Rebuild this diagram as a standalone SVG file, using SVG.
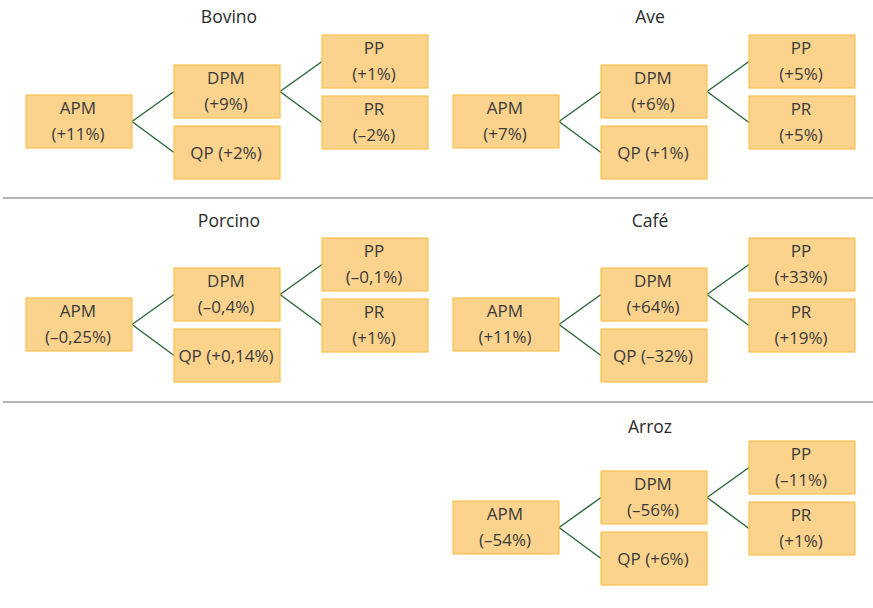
<svg xmlns="http://www.w3.org/2000/svg" width="873" height="608" viewBox="0 0 873 608">
  <style>
    .box { fill: #FCD38D; stroke: #F8C253; stroke-width: 1.2; }
    .lbl { font-family: "Open Sans", "Noto Sans", sans-serif; font-size: 17px; fill: #3a3a3a; text-anchor: middle; }
    .ttl { font-family: "Open Sans", "Noto Sans", sans-serif; font-size: 17.5px; fill: #2b2b2b; text-anchor: middle; }
    .con { stroke: #2F6A3C; stroke-width: 1.5; fill: none; }
    .sep { stroke: #9c9c9c; stroke-width: 1.5; }
  </style>

  <!-- section separators -->
  <line class="sep" x1="3" y1="198" x2="873" y2="198"/>
  <line class="sep" x1="3" y1="402" x2="873" y2="402"/>

  <!-- titles -->
  <text class="ttl" x="229" y="23">Bovino</text>
  <text class="ttl" x="650" y="23">Ave</text>
  <text class="ttl" x="229" y="227">Porcino</text>
  <text class="ttl" x="650" y="227">Café</text>
  <text class="ttl" x="650" y="433">Arroz</text>

  <!-- connectors for all five trees -->
  <g id="connectors">
    <g transform="translate(0,0)">
      <path class="con" d="M132,121.5 L174,91.5 M132,121.5 L174,152.5 M280,91.5 L322,61.5 M280,91.5 L322,122.5"/>
    </g>
    <g transform="translate(427,0)">
      <path class="con" d="M132,121.5 L174,91.5 M132,121.5 L174,152.5 M280,91.5 L322,61.5 M280,91.5 L322,122.5"/>
    </g>
    <g transform="translate(0,203)">
      <path class="con" d="M132,121.5 L174,91.5 M132,121.5 L174,152.5 M280,91.5 L322,61.5 M280,91.5 L322,122.5"/>
    </g>
    <g transform="translate(427,203)">
      <path class="con" d="M132,121.5 L174,91.5 M132,121.5 L174,152.5 M280,91.5 L322,61.5 M280,91.5 L322,122.5"/>
    </g>
    <g transform="translate(427,406)">
      <path class="con" d="M132,121.5 L174,91.5 M132,121.5 L174,152.5 M280,91.5 L322,61.5 M280,91.5 L322,122.5"/>
    </g>
  </g>

  <!-- Bovino -->
  <g id="bovino">
    <g id="bovino-apm"><rect class="box" x="26" y="95" width="106" height="53"/><text class="lbl" x="78" y="113.5">APM</text><text class="lbl" x="78" y="140">(+11%)</text></g>
    <g id="bovino-dpm"><rect class="box" x="174" y="65" width="106" height="53"/><text class="lbl" x="226" y="83.5">DPM</text><text class="lbl" x="226" y="110">(+9%)</text></g>
    <g id="bovino-qp"><rect class="box" x="174" y="126" width="106" height="53"/><text class="lbl" x="226" y="159">QP (+2%)</text></g>
    <g id="bovino-pp"><rect class="box" x="322" y="35" width="106" height="53"/><text class="lbl" x="374" y="53.5">PP</text><text class="lbl" x="374" y="80">(+1%)</text></g>
    <g id="bovino-pr"><rect class="box" x="322" y="96" width="106" height="53"/><text class="lbl" x="374" y="114.5">PR</text><text class="lbl" x="374" y="141">(–2%)</text></g>
  </g>

  <!-- Ave -->
  <g id="ave" transform="translate(427,0)">
    <g id="ave-apm"><rect class="box" x="26" y="95" width="106" height="53"/><text class="lbl" x="78" y="113.5">APM</text><text class="lbl" x="78" y="140">(+7%)</text></g>
    <g id="ave-dpm"><rect class="box" x="174" y="65" width="106" height="53"/><text class="lbl" x="226" y="83.5">DPM</text><text class="lbl" x="226" y="110">(+6%)</text></g>
    <g id="ave-qp"><rect class="box" x="174" y="126" width="106" height="53"/><text class="lbl" x="226" y="159">QP (+1%)</text></g>
    <g id="ave-pp"><rect class="box" x="322" y="35" width="106" height="53"/><text class="lbl" x="374" y="53.5">PP</text><text class="lbl" x="374" y="80">(+5%)</text></g>
    <g id="ave-pr"><rect class="box" x="322" y="96" width="106" height="53"/><text class="lbl" x="374" y="114.5">PR</text><text class="lbl" x="374" y="141">(+5%)</text></g>
  </g>

  <!-- Porcino -->
  <g id="porcino" transform="translate(0,203)">
    <g id="porcino-apm"><rect class="box" x="26" y="95" width="106" height="53"/><text class="lbl" x="78" y="113.5">APM</text><text class="lbl" x="78" y="140">(–0,25%)</text></g>
    <g id="porcino-dpm"><rect class="box" x="174" y="65" width="106" height="53"/><text class="lbl" x="226" y="83.5">DPM</text><text class="lbl" x="226" y="110">(–0,4%)</text></g>
    <g id="porcino-qp"><rect class="box" x="174" y="126" width="106" height="53"/><text class="lbl" x="226" y="159">QP (+0,14%)</text></g>
    <g id="porcino-pp"><rect class="box" x="322" y="35" width="106" height="53"/><text class="lbl" x="374" y="53.5">PP</text><text class="lbl" x="374" y="80">(–0,1%)</text></g>
    <g id="porcino-pr"><rect class="box" x="322" y="96" width="106" height="53"/><text class="lbl" x="374" y="114.5">PR</text><text class="lbl" x="374" y="141">(+1%)</text></g>
  </g>

  <!-- Café -->
  <g id="cafe" transform="translate(427,203)">
    <g id="cafe-apm"><rect class="box" x="26" y="95" width="106" height="53"/><text class="lbl" x="78" y="113.5">APM</text><text class="lbl" x="78" y="140">(+11%)</text></g>
    <g id="cafe-dpm"><rect class="box" x="174" y="65" width="106" height="53"/><text class="lbl" x="226" y="83.5">DPM</text><text class="lbl" x="226" y="110">(+64%)</text></g>
    <g id="cafe-qp"><rect class="box" x="174" y="126" width="106" height="53"/><text class="lbl" x="226" y="159">QP (–32%)</text></g>
    <g id="cafe-pp"><rect class="box" x="322" y="35" width="106" height="53"/><text class="lbl" x="374" y="53.5">PP</text><text class="lbl" x="374" y="80">(+33%)</text></g>
    <g id="cafe-pr"><rect class="box" x="322" y="96" width="106" height="53"/><text class="lbl" x="374" y="114.5">PR</text><text class="lbl" x="374" y="141">(+19%)</text></g>
  </g>

  <!-- Arroz -->
  <g id="arroz" transform="translate(427,406)">
    <g id="arroz-apm"><rect class="box" x="26" y="95" width="106" height="53"/><text class="lbl" x="78" y="113.5">APM</text><text class="lbl" x="78" y="140">(–54%)</text></g>
    <g id="arroz-dpm"><rect class="box" x="174" y="65" width="106" height="53"/><text class="lbl" x="226" y="83.5">DPM</text><text class="lbl" x="226" y="110">(–56%)</text></g>
    <g id="arroz-qp"><rect class="box" x="174" y="126" width="106" height="53"/><text class="lbl" x="226" y="159">QP (+6%)</text></g>
    <g id="arroz-pp"><rect class="box" x="322" y="35" width="106" height="53"/><text class="lbl" x="374" y="53.5">PP</text><text class="lbl" x="374" y="80">(–11%)</text></g>
    <g id="arroz-pr"><rect class="box" x="322" y="96" width="106" height="53"/><text class="lbl" x="374" y="114.5">PR</text><text class="lbl" x="374" y="141">(+1%)</text></g>
  </g>
</svg>
